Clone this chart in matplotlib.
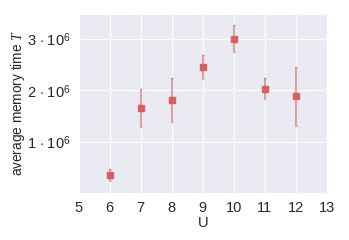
import numpy as np
import matplotlib
matplotlib.use("Agg")
import matplotlib.pyplot as plt
import seaborn as sns

sns.set_style("darkgrid")
plt.rcParams['font.family'] = ['Liberation Sans', 'DejaVu Sans']
plt.rcParams['mathtext.fontset'] = 'custom'
plt.rcParams['mathtext.rm'] = 'Liberation Sans'
plt.rcParams['mathtext.it'] = 'Liberation Serif:italic'

# data
U = [6, 7, 8, 9, 10, 11, 12]
T_mean = [0.35e6, 1.66e6, 1.81e6, 2.45e6, 3.00e6, 2.03e6, 1.88e6]
T_err = [0.12e6, 0.37e6, 0.43e6, 0.23e6, 0.26e6, 0.20e6, 0.57e6]

y_ticks = [1e6, 2e6, 3e6]
y_labels = [r'$1\,\cdot\,10^{\mathit{6}}$', r'$2\,\cdot\,10^{\mathit{6}}$',
            r'$3\,\cdot\,10^{\mathit{6}}$']

fig, ax = plt.subplots(figsize=(3.49, 2.4), dpi=100)
eb = ax.errorbar(U, T_mean, yerr=T_err, fmt='s', color='#d65f5f', ms=4,
                 ecolor='#d65f5f', elinewidth=1.4, capsize=1)
for part in eb[2]:
    part.set_alpha(0.6)
for cap in eb[1]:
    cap.set_alpha(0.6)

ax.set_xlim(5, 13)
ax.set_ylim(0, 3.48e6)
ax.set_xticks(range(5, 14))
ax.set_yticks(y_ticks)
ax.set_yticklabels(y_labels)
ax.tick_params(labelsize=10.5, pad=2)
ax.set_xlabel('U', fontsize=10.5, labelpad=1)
ax.set_ylabel('average memory time $T$', fontsize=9.8, labelpad=0)

fig.subplots_adjust(left=0.225, right=0.937, top=0.942, bottom=0.196)
fig.savefig('out.png', dpi=100)
